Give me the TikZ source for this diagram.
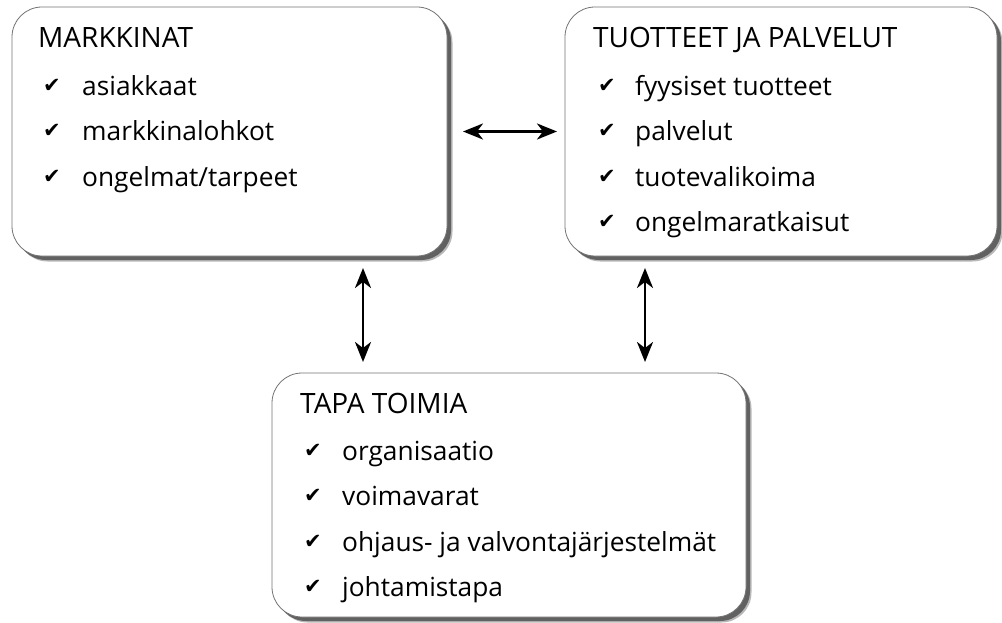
\documentclass[tikz,border=0pt]{standalone}
\usepackage{fontspec}
\setmainfont{Open Sans}
\newfontfamily\symfont{DejaVu Sans}
\usetikzlibrary{arrows.meta,shadows}
\begin{document}
\begin{tikzpicture}[x=1pt,y=-1pt,
  panel/.style={rectangle, draw=black!55, line width=0.8pt, fill=white, rounded corners=30pt,
    inner sep=0pt, outer sep=0pt, anchor=north west,
    drop shadow={shadow xshift=5.5pt,shadow yshift=-5.5pt,fill=black!28,opacity=1},
    drop shadow={shadow xshift=4pt,shadow yshift=-4pt,fill=black!62,opacity=1}},
  head/.style={anchor=base west, inner sep=0pt, font=\fontsize{28}{32}\selectfont},
  item/.style={anchor=base west, inner sep=0pt, font=\fontsize{26.3}{30}\selectfont},
  tick/.style={anchor=base west, inner sep=0pt, yshift=3pt, font=\symfont\fontsize{21}{24}\selectfont},
  link/.style={line width=2.5pt, {Stealth[length=20pt,width=16pt,inset=6pt]}-{Stealth[length=20pt,width=16pt,inset=6pt]}}
]
\useasboundingbox (0,0) rectangle (1002,623);

% boxes
\node[panel, minimum width=435pt, minimum height=249pt] (b1) at (12,7) {};
\node[panel, minimum width=432pt, minimum height=249pt] (b2) at (565,7) {};
\node[panel, minimum width=474pt, minimum height=244pt] (b3) at (272,373) {};

% MARKKINAT
\node[head] (t1) at (38,48) {MARKKINAT};
\node[tick] (c11) at (43,96) {✔};
\node[item] (i11) at (82,96) {asiakkaat};
\node[tick] (c12) at (43,141) {✔};
\node[item] (i12) at (82,141) {markkinalohkot};
\node[tick] (c13) at (43,186) {✔};
\node[item] (i13) at (82,186) {ongelmat/tarpeet};

% TUOTTEET JA PALVELUT
\node[head] (t2) at (593,48) {TUOTTEET JA PALVELUT};
\node[tick] (c21) at (598,96) {✔};
\node[item] (i21) at (635,96) {fyysiset tuotteet};
\node[tick] (c22) at (598,141) {✔};
\node[item] (i22) at (635,141) {palvelut};
\node[tick] (c23) at (598,186) {✔};
\node[item] (i23) at (635,186) {tuotevalikoima};
\node[tick] (c24) at (598,231) {✔};
\node[item] (i24) at (635,231) {ongelmaratkaisut};

% TAPA TOIMIA
\node[head] (t3) at (300,413) {TAPA TOIMIA};
\node[tick] (c31) at (304,460) {✔};
\node[item] (i31) at (342,460) {organisaatio};
\node[tick] (c32) at (304,505) {✔};
\node[item] (i32) at (342,505) {voimavarat};
\node[tick] (c33) at (304,551) {✔};
\node[item] (i33) at (342,551) {ohjaus- ja valvontajärjestelmät};
\node[tick] (c34) at (304,596) {✔};
\node[item] (i34) at (342,596) {johtamistapa};

% connectors
\draw[link] ([xshift=16pt]b1.east) -- ([xshift=-8pt]b2.west);
\draw[link] ([xshift=351pt,yshift=-12pt]b1.south west) -- ([xshift=91pt,yshift=11pt]b3.north west);
\draw[link] ([xshift=80pt,yshift=-12pt]b2.south west) -- ([xshift=373pt,yshift=11pt]b3.north west);
\end{tikzpicture}
\end{document}
